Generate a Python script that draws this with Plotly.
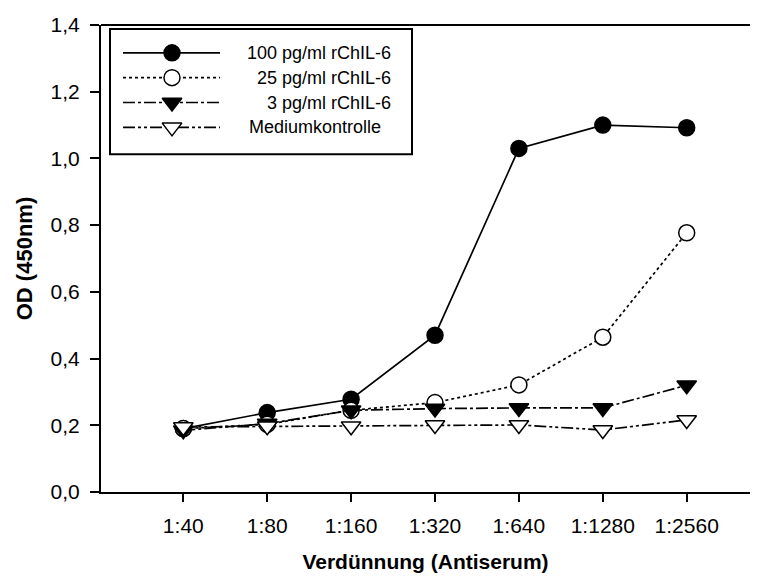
import plotly.graph_objects as go

# ---------------- data ----------------
dilutions = ["1:40", "1:80", "1:160", "1:320", "1:640", "1:1280", "1:2560"]
od_100pg = [0.190, 0.238, 0.278, 0.470, 1.030, 1.100, 1.092]
od_25pg = [0.190, 0.203, 0.245, 0.268, 0.321, 0.464, 0.777]
od_3pg = [0.185, 0.205, 0.245, 0.250, 0.252, 0.252, 0.320]
od_medium = [0.195, 0.197, 0.197, 0.201, 0.201, 0.186, 0.216]

series_names = ["100 pg/ml rChIL-6", "25 pg/ml rChIL-6", "3 pg/ml rChIL-6", "Mediumkontrolle"]
y_tick_vals = [0.0, 0.2, 0.4, 0.6, 0.8, 1.0, 1.2, 1.4]
y_tick_text = ["0,0", "0,2", "0,4", "0,6", "0,8", "1,0", "1,2", "1,4"]

# ---------------- styles ----------------
FONT = "Liberation Sans, Arial, sans-serif"
styles = [
    dict(dash="solid", symbol="circle", fill="black"),
    dict(dash="3px,3px", symbol="circle", fill="white"),
    dict(dash="12px,3px,3px,3px", symbol="triangle-down", fill="black"),
    dict(dash="12px,3px,3px,3px,3px,3px", symbol="triangle-down", fill="white"),
]
marker_sizes = [16, 16, 17, 17]
all_series = [od_100pg, od_25pg, od_3pg, od_medium]

# page body has an 8px margin -> figure is offset by 8px in the screenshot;
# keep the page inside the window so no scrollbars appear
OFF = 8
W, H = 758 - 2 * OFF, 581 - 2 * OFF
# plot area in screenshot pixel coordinates
PLOT_L, PLOT_R, PLOT_T, PLOT_B = 101, OFF + W, 25, 495
X0_PIX, X_STEP = 183.3, 83.9   # screenshot x of first category, category spacing
Y_MIN, Y_MAX = 0.0, 1.4

x_range = [(PLOT_L - X0_PIX) / X_STEP, (PLOT_R - X0_PIX) / X_STEP]


def px2x(px):
    return x_range[0] + (px - PLOT_L) / (PLOT_R - PLOT_L) * (x_range[1] - x_range[0])


def py2y(py):
    return Y_MIN + (PLOT_B - py) / (PLOT_B - PLOT_T) * (Y_MAX - Y_MIN)


x_pos = list(range(len(dilutions)))

fig = go.Figure()
for name, ys, st, ms in zip(series_names, all_series, styles, marker_sizes):
    fig.add_trace(go.Scatter(
        x=x_pos, y=ys, name=name, mode="lines+markers",
        line=dict(color="black", width=1.7, dash=st["dash"]),
        marker=dict(symbol=st["symbol"], size=ms, color=st["fill"],
                    line=dict(color="black", width=1.5)),
        showlegend=False, cliponaxis=False,
    ))

# ---------------- custom legend (pixel layout converted to data coords) ----------------
L_LEFT, L_TOP, L_RIGHT, L_BOTTOM = 110, 29, 412, 155
row_y = [53, 78, 103, 128]
line_x0, line_x1, mark_x = 123, 220, 172
text_right, text_left = 393, 247

for i, (name, st, ms) in enumerate(zip(series_names, styles, marker_sizes)):
    ry = py2y(row_y[i])
    fig.add_trace(go.Scatter(
        x=[px2x(line_x0), px2x(mark_x), px2x(line_x1)], y=[ry] * 3,
        mode="lines", line=dict(color="black", width=1.7, dash=st["dash"]),
        showlegend=False, hoverinfo="skip",
    ))
    fig.add_trace(go.Scatter(
        x=[px2x(mark_x)], y=[ry], mode="markers",
        marker=dict(symbol=st["symbol"], size=ms, color=st["fill"],
                    line=dict(color="black", width=1.5)),
        showlegend=False, hoverinfo="skip",
    ))
    if i < 3:
        fig.add_annotation(x=px2x(text_right), y=ry, text=name, showarrow=False,
                           xanchor="right",
                           font=dict(family=FONT, size=18, color="black"))
    else:
        fig.add_annotation(x=px2x(text_left), y=ry, text=name, showarrow=False,
                           xanchor="left",
                           font=dict(family=FONT, size=18, color="black"))

fig.add_shape(type="rect", x0=px2x(L_LEFT), x1=px2x(L_RIGHT),
              y0=py2y(L_TOP), y1=py2y(L_BOTTOM), line=dict(color="black", width=2))
# top frame line (the original has no right frame line)
fig.add_shape(type="line", xref="paper", yref="paper", x0=0, x1=1, y0=1, y1=1,
              line=dict(color="black", width=2))
# mask any edge line along the right border of the plot area
mask_x = (PLOT_R - 3 - PLOT_L) / (PLOT_R - PLOT_L)
fig.add_shape(type="line", xref="paper", yref="paper", x0=mask_x, x1=mask_x,
              y0=0.005, y1=0.995, line=dict(color="white", width=8), layer="above")

fig.update_layout(
    width=W, height=H,
    margin=dict(l=PLOT_L - OFF, r=0,
                t=PLOT_T - OFF, b=H - (PLOT_B - OFF)),
    paper_bgcolor="white", plot_bgcolor="white",
    font=dict(family=FONT, color="black"),
    xaxis=dict(
        range=x_range, tickvals=x_pos, ticktext=dilutions,
        showline=True, linecolor="black", linewidth=2, mirror=False,
        ticks="outside", ticklen=8, tickwidth=2, tickcolor="black",
        showgrid=False, zeroline=False,
        tickfont=dict(family=FONT, size=21, color="black"),
        ticklabelstandoff=6,
        title=dict(text="<b>Verdünnung (Antiserum)</b>", standoff=21,
                   font=dict(family=FONT, size=21, color="black")),
    ),
    yaxis=dict(
        range=[Y_MIN, Y_MAX], tickvals=y_tick_vals, ticktext=y_tick_text,
        showline=True, linecolor="black", linewidth=2, mirror=False,
        ticks="outside", ticklen=9, tickwidth=2, tickcolor="black",
        showgrid=False, zeroline=False,
        tickfont=dict(family=FONT, size=21, color="black"),
        ticklabelstandoff=6,
        title=dict(text="<b>OD (450nm)</b>", standoff=12,
                   font=dict(family=FONT, size=22, color="black")),
    ),
)

fig.write_html("out.html")
